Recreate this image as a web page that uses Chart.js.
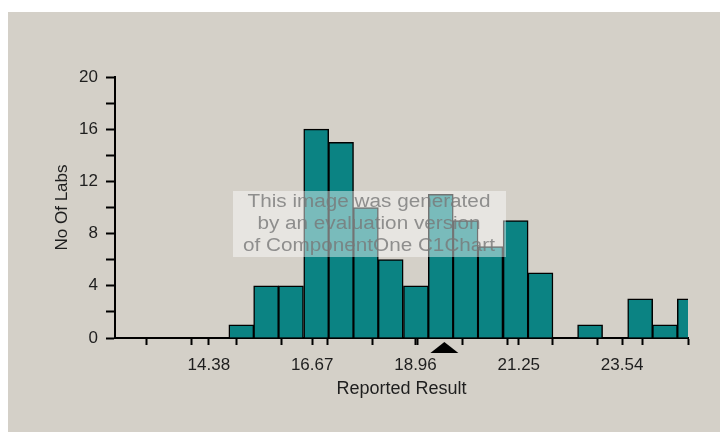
<!DOCTYPE html>
<html>
<head>
<meta charset="utf-8">
<script src="https://cdn.jsdelivr.net/npm/chart.js@4.4.1/dist/chart.umd.min.js"></script>
<style>
  html, body { margin: 0; padding: 0; background: #fff; }
  #wrap { position: absolute; left: 8px; top: 12px; width: 712px; height: 420px; }
</style>
</head>
<body>
<div id="wrap"><canvas id="hist" width="712" height="420"></canvas></div>
<script>
// histogram bins (centre of each bin) and counts
const binCenters = [15.10, 15.65, 16.20, 16.76, 17.31, 17.86, 18.41, 18.97, 19.52, 20.07, 20.62, 21.18, 21.73, 22.28, 22.83, 23.39, 23.94, 24.49, 25.04];
const labCounts = [1, 4, 4, 16, 15, 10, 6, 4, 11, 9, 7, 9, 5, 0, 1, 0, 3, 1, 3];
const xLabelTicks = [14.38, 16.67, 18.96, 21.25, 23.54];
const xMinorTicks = [13, 14, 15, 16, 17, 18, 19, 20, 21, 22, 23, 24, 25];
const yLabelTicks = [0, 4, 8, 12, 16, 20];
const markerValue = 19.60;
const watermarkLines = ['This image was generated', 'by an evaluation version', 'of ComponentOne C1Chart'];

Chart.defaults.font.family = "'Liberation Sans', Arial, sans-serif";
Chart.defaults.color = '#1e1e1e';

const backdrop = {
    id: 'backdrop',
    beforeDraw(chart) {
        const ctx = chart.ctx;
        ctx.save();
        ctx.fillStyle = '#d4d0c8';
        ctx.fillRect(0, 0, chart.width, chart.height);
        ctx.restore();
    }
};

// black triangle under the x axis
const marker = {
    id: 'marker',
    afterDraw(chart) {
        const ctx = chart.ctx;
        const xs = chart.scales.x;
        const px = xs.getPixelForValue(markerValue);
        const top = xs.top + 4;
        ctx.save();
        ctx.fillStyle = '#000';
        ctx.beginPath();
        ctx.moveTo(px, top);
        ctx.lineTo(px + 14, top + 11);
        ctx.lineTo(px - 14, top + 11);
        ctx.closePath();
        ctx.fill();
        ctx.restore();
    }
};

// evaluation-version stamp
const watermark = {
    id: 'watermark',
    afterDraw(chart) {
        const ctx = chart.ctx;
        ctx.save();
        ctx.fillStyle = 'rgba(255,255,255,0.45)';
        ctx.fillRect(225, 179, 273, 66);
        ctx.fillStyle = 'rgba(120,120,120,0.8)';
        ctx.font = "18px 'Liberation Sans', Arial, sans-serif";
        ctx.textAlign = 'center';
        ctx.textBaseline = 'middle';
        watermarkLines.forEach((line, i) => {
            ctx.save();
            ctx.translate(361, 190 + i * 22);
            ctx.scale(1.15, 1);
            ctx.fillText(line, 0, 0);
            ctx.restore();
        });
        ctx.restore();
    }
};

new Chart(document.getElementById('hist'), {
    type: 'bar',
    data: {
        datasets: [{
            data: binCenters.map((x, i) => ({ x: x, y: labCounts[i] })),
            backgroundColor: '#0b8383',
            borderColor: '#000',
            borderWidth: 1.5,
            barThickness: 25,
            clip: { left: 0, top: 5, right: 0, bottom: 0 }
        }]
    },
    options: {
        responsive: false,
        animation: false,
        events: [],
        layout: { padding: { left: 40, top: 65, right: 32, bottom: 30 } },
        plugins: {
            legend: { display: false },
            tooltip: { enabled: false }
        },
        scales: {
            x: {
                type: 'linear',
                min: 12.3,
                max: 25.0,
                offset: false,
                afterBuildTicks: (scale) => {
                    scale.ticks = xMinorTicks.concat(xLabelTicks)
                        .sort((a, b) => a - b)
                        .map((v) => ({ value: v }));
                },
                afterFit: (scale) => { scale.height = 64; },
                ticks: {
                    autoSkip: false,
                    maxRotation: 0,
                    padding: 10,
                    font: { size: 17 },
                    callback: (value) => xLabelTicks.includes(value) ? value.toFixed(2) : ''
                },
                grid: {
                    drawOnChartArea: false,
                    tickLength: 7,
                    tickWidth: 2,
                    tickColor: '#000',
                    offset: false
                },
                border: { color: '#000', width: 2 },
                title: {
                    display: true,
                    text: 'Reported Result',
                    font: { size: 18 },
                    padding: { top: 2, bottom: 2 }
                }
            },
            y: {
                min: 0,
                max: 20,
                afterFit: (scale) => { scale.width = 67; },
                ticks: {
                    stepSize: 2,
                    padding: 8,
                    font: { size: 17 },
                    callback: (value) => yLabelTicks.includes(value) ? value : ''
                },
                grid: {
                    drawOnChartArea: false,
                    tickLength: 9,
                    tickWidth: 2,
                    tickColor: '#000'
                },
                border: { color: '#000', width: 2 },
                title: {
                    display: true,
                    text: 'No Of Labs',
                    font: { size: 17 },
                    padding: { top: 4, bottom: 4 }
                }
            }
        }
    },
    plugins: [backdrop, marker, watermark]
});
</script>
</body>
</html>
